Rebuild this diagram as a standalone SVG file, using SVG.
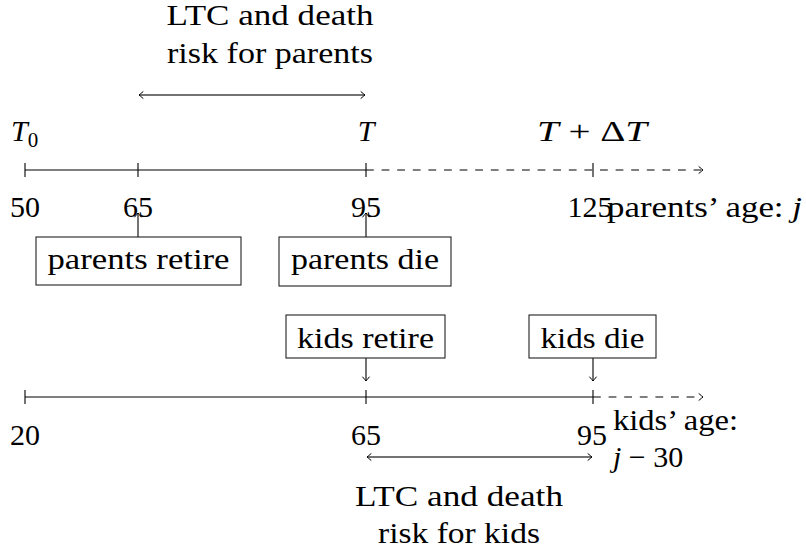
<svg xmlns="http://www.w3.org/2000/svg" width="806" height="554" viewBox="0 0 806 554" font-family="Liberation Serif, DejaVu Serif, serif" font-size="30">
<defs>
<style>
text{font-family:Liberation Serif,DejaVu Serif,serif;font-size:30px;fill:#000}
.it{font-style:italic}
.m{text-anchor:middle}
.ln{stroke:#000;stroke-width:1.1;fill:none}
.da{stroke:#000;stroke-width:1.1;fill:none;stroke-dasharray:7.8 7.8}
.rng{stroke:#444;stroke-width:1.3;fill:none}
.box{fill:#fff;stroke:#222;stroke-width:1.1}
</style>
<marker id="to" viewBox="-6 -5 8 10" refX="0" refY="0" markerWidth="8" markerHeight="10" markerUnits="userSpaceOnUse" orient="auto-start-reverse">
<path d="M -4,-3.3 Q -1,-0.8 0,0 Q -1,0.8 -4,3.3" fill="none" stroke="#000" stroke-width="1" stroke-linecap="round"/>
</marker>
</defs>

<g id="connectors">
<line class="ln" x1="25" y1="170" x2="366" y2="170"/>
<line class="da" x1="366" y1="170" x2="703" y2="170" marker-end="url(#to)"/>
<line class="ln" x1="25" y1="163" x2="25" y2="177"/>
<line class="ln" x1="138" y1="163" x2="138" y2="177"/>
<line class="ln" x1="366" y1="163" x2="366" y2="177"/>
<line class="ln" x1="593" y1="163" x2="593" y2="177"/>
<line class="rng" x1="139" y1="95" x2="365" y2="95" marker-start="url(#to)" marker-end="url(#to)"/>
<line class="ln" x1="138" y1="237" x2="138" y2="213" marker-end="url(#to)"/>
<line class="ln" x1="366" y1="237" x2="366" y2="213" marker-end="url(#to)"/>
<line class="ln" x1="366" y1="358" x2="366" y2="381" marker-end="url(#to)"/>
<line class="ln" x1="593" y1="358" x2="593" y2="381" marker-end="url(#to)"/>
<line class="ln" x1="25" y1="397" x2="593" y2="397"/>
<line class="da" x1="593" y1="397" x2="703" y2="397" marker-end="url(#to)"/>
<line class="ln" x1="25" y1="390" x2="25" y2="404"/>
<line class="ln" x1="366" y1="390" x2="366" y2="404"/>
<line class="ln" x1="593" y1="390" x2="593" y2="404"/>
<line class="rng" x1="367" y1="457" x2="592" y2="457" marker-start="url(#to)" marker-end="url(#to)"/>
</g>

<g id="labels-top" font-family="Liberation Serif">
<text class="m" x="270" y="25" textLength="207" lengthAdjust="spacingAndGlyphs">LTC and death</text>
<text class="m" x="270" y="63" textLength="206" lengthAdjust="spacingAndGlyphs">risk for parents</text>
<text x="11" y="141"><tspan class="it">T</tspan><tspan dy="6" font-size="21">0</tspan></text>
<text class="m it" x="366" y="141">T</text>
<text class="m" x="592" y="141" textLength="110" lengthAdjust="spacingAndGlyphs"><tspan class="it">T</tspan> + Δ<tspan class="it">T</tspan></text>
<text class="m" x="25" y="217">50</text>
<text class="m" x="138" y="217">65</text>
<text class="m" x="366" y="217">95</text>
<text class="m" x="590" y="217">125</text>
<text x="607" y="217" textLength="195" lengthAdjust="spacingAndGlyphs">parents’ age:  <tspan class="it">j</tspan></text>
</g>

<g id="node-parents-retire">
<rect class="box" x="36" y="237" width="205" height="48"/>
<text class="m" x="138.5" y="269" textLength="182" lengthAdjust="spacingAndGlyphs">parents retire</text>
</g>
<g id="node-parents-die">
<rect class="box" x="279" y="237" width="172" height="49"/>
<text class="m" x="365" y="269" textLength="148" lengthAdjust="spacingAndGlyphs">parents die</text>
</g>
<g id="node-kids-retire">
<rect class="box" x="286" y="315" width="159" height="43"/>
<text class="m" x="365.5" y="348" textLength="137" lengthAdjust="spacingAndGlyphs">kids retire</text>
</g>
<g id="node-kids-die">
<rect class="box" x="529" y="315" width="127" height="43"/>
<text class="m" x="592.5" y="348" textLength="104" lengthAdjust="spacingAndGlyphs">kids die</text>
</g>

<g id="labels-bottom">
<text class="m" x="25" y="445">20</text>
<text class="m" x="366" y="445">65</text>
<text class="m" x="592" y="445">95</text>
<text x="613" y="430" textLength="125" lengthAdjust="spacingAndGlyphs">kids’ age:</text>
<text x="613" y="467"><tspan class="it">j</tspan> − 30</text>
<text class="m" x="459" y="506" textLength="208" lengthAdjust="spacingAndGlyphs">LTC and death</text>
<text class="m" x="459" y="543" textLength="162" lengthAdjust="spacingAndGlyphs">risk for kids</text>
</g>
</svg>
